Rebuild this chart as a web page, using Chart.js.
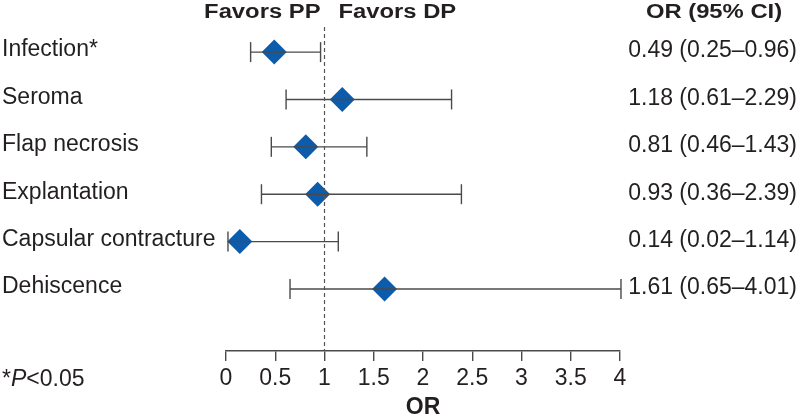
<!DOCTYPE html>
<html><head><meta charset="utf-8">
<script src="https://cdn.jsdelivr.net/npm/chart.js@4/dist/chart.umd.min.js"></script>
<style>html,body{margin:0;padding:0;background:#fff}</style>
</head><body>
<canvas id="c" width="800" height="419"></canvas>
<script>
const outcomes = ["Infection*", "Seroma", "Flap necrosis", "Explantation", "Capsular contracture", "Dehiscence"];
const orValues = [0.49, 1.18, 0.81, 0.93, 0.14, 1.61];
const ciLower = [0.25, 0.61, 0.46, 0.36, 0.02, 0.65];
const ciUpper = [0.96, 2.29, 1.43, 2.39, 1.14, 4.01];
const orLabels = ["0.49 (0.25–0.96)", "1.18 (0.61–2.29)", "0.81 (0.46–1.43)", "0.93 (0.36–2.39)", "0.14 (0.02–1.14)", "1.61 (0.65–4.01)"];
const xTicks = [0, 0.5, 1, 1.5, 2, 2.5, 3, 3.5, 4];
const xTickLabels = ["0", "0.5", "1", "1.5", "2", "2.5", "3", "3.5", "4"];
const referenceOR = 1;
const headerLeft = "Favors PP";
const headerRight = "Favors DP";
const headerCI = "OR (95% CI)";
const axisTitle = "OR";
const footnote = ["*", "P", "<0.05"];

const FONT = '"Liberation Sans", Arial, Helvetica, sans-serif';
const TEXT = '#231f20';
const LINE = '#4a4a4a';
const BLUE = '#0d5cab';
const Y_MIN = -0.53, Y_MAX = 6.31;

const datasets = [];
datasets.push({
  type: 'line',
  data: [{x: referenceOR, y: Y_MIN}, {x: referenceOR, y: Y_MAX}],
  borderColor: '#555', borderWidth: 1.2, borderDash: [4, 3],
  pointRadius: 0, clip: false
});
outcomes.forEach((name, i) => {
  datasets.push({
    type: 'line',
    data: [{x: ciLower[i], y: i}, {x: ciUpper[i], y: i}],
    borderColor: LINE, borderWidth: 1.4,
    pointStyle: 'line', pointRotation: 90, pointRadius: 10,
    pointBorderColor: LINE, pointBorderWidth: 1.4, pointBackgroundColor: LINE,
    clip: false
  });
});
datasets.push({
  type: 'scatter',
  data: orValues.map((v, i) => ({x: v, y: i})),
  pointStyle: 'rectRot', pointRadius: 12.5,
  backgroundColor: BLUE, borderColor: BLUE, borderWidth: 0,
  clip: false
});

function setRowTicks(s) { s.ticks = outcomes.map((_, i) => ({value: i})); }

const textPlugin = {
  id: 'texts',
  afterDraw(chart) {
    const ctx = chart.ctx;
    const xs = chart.scales.x;
    const x1 = xs.getPixelForValue(referenceOR);
    ctx.save();
    ctx.fillStyle = TEXT;
    ctx.textBaseline = 'alphabetic';
    ctx.font = 'bold 20px ' + FONT;
    const stretched = (t, x, y, align) => {
      ctx.save(); ctx.translate(x, y); ctx.scale(1.19, 1);
      ctx.textAlign = align; ctx.fillText(t, 0, 0); ctx.restore();
    };
    stretched(headerLeft, x1 - 4, 17.5, 'right');
    stretched(headerRight, x1 + 14, 17.5, 'left');
    stretched(headerCI, 714, 18, 'center');
    // footnote
    let fx = 2; const fy = 386;
    ctx.textAlign = 'left';
    ctx.font = '23px ' + FONT;
    ctx.fillText(footnote[0], fx, fy); fx += ctx.measureText(footnote[0]).width;
    ctx.font = 'italic 23px ' + FONT;
    ctx.fillText(footnote[1], fx, fy); fx += ctx.measureText(footnote[1]).width;
    ctx.font = '23px ' + FONT;
    ctx.fillText(footnote[2], fx, fy);
    ctx.restore();
  }
};

new Chart(document.getElementById('c'), {
  data: {datasets},
  plugins: [textPlugin],
  options: {
    responsive: false,
    animation: false,
    devicePixelRatio: 1,
    events: [],
    layout: {padding: {left: 2, right: 3, top: 27, bottom: 0}},
    plugins: {legend: {display: false}, tooltip: {enabled: false}},
    scales: {
      x: {
        type: 'linear', position: 'bottom', min: 0, max: 4,
        afterBuildTicks: s => { s.ticks = xTicks.map(v => ({value: v})); },
        afterFit: s => { s.height = 68; },
        ticks: {
          callback: (v) => xTickLabels[xTicks.indexOf(v)],
          font: {family: FONT, size: 23}, color: TEXT, padding: 4,
          maxRotation: 0, autoSkip: false
        },
        grid: {drawOnChartArea: false, drawTicks: true, tickLength: 10, color: LINE, lineWidth: 1.4},
        border: {display: true, color: LINE, width: 1.4},
        title: {display: true, text: axisTitle, color: TEXT, padding: 0,
                font: {family: FONT, size: 23, weight: 'bold', lineHeight: 1}}
      },
      y: {
        type: 'linear', position: 'left', reverse: true, min: Y_MIN, max: Y_MAX,
        afterBuildTicks: setRowTicks,
        afterFit: s => { s.width = 224; },
        ticks: {callback: v => outcomes[v], crossAlign: 'far', labelOffset: -2,
                font: {family: FONT, size: 23}, color: TEXT, autoSkip: false},
        grid: {display: false}, border: {display: false}
      },
      y2: {
        type: 'linear', position: 'right', reverse: true, min: Y_MIN, max: Y_MAX,
        afterBuildTicks: setRowTicks,
        afterFit: s => { s.width = 177; },
        ticks: {callback: v => orLabels[v], crossAlign: 'far', labelOffset: -1,
                font: {family: FONT, size: 23}, color: TEXT, autoSkip: false},
        grid: {display: false}, border: {display: false}
      }
    }
  }
});
</script>
</body></html>
